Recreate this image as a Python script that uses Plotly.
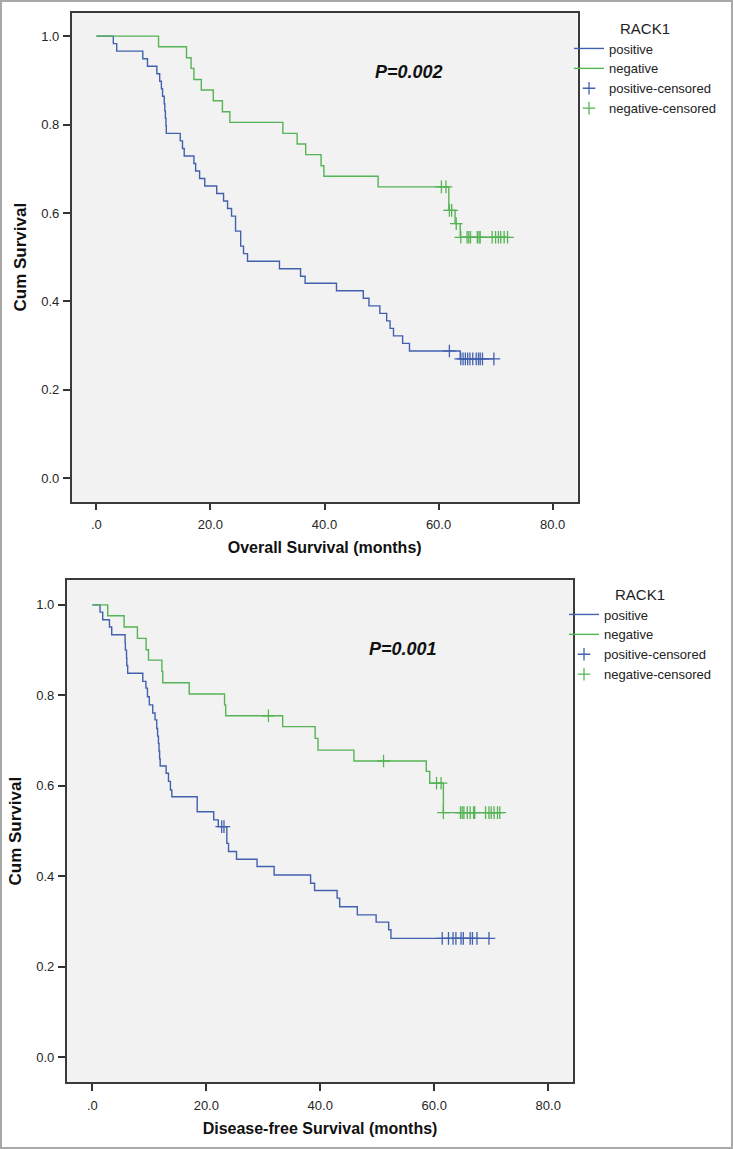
import numpy as np
import plotly.graph_objects as go

# ---------------- Data ----------------
# Overall survival, RACK1 positive: step times (months) and survival after each step
os_pos_time = [0, 2.97, 3.56, 8.14, 8.96, 10.6, 11.1, 11.4, 11.6, 11.9, 12.0, 12.1, 12.2, 12.26,
               14.7, 15.1, 15.4, 17.1, 17.4, 18.1, 19.0, 21.1, 22.3, 23.0, 23.7, 24.4, 25.3, 25.8,
               26.5, 32.1, 35.8, 36.6, 42.1, 46.8, 47.8, 49.7, 50.9, 51.5, 52.1, 53.7, 54.9, 63.8]
os_pos_surv = [1.000, 0.983, 0.966, 0.949, 0.932, 0.915, 0.898, 0.881, 0.864, 0.847, 0.831, 0.814,
               0.797, 0.780, 0.763, 0.746, 0.729, 0.712, 0.695, 0.678, 0.661, 0.644, 0.627, 0.610,
               0.593, 0.559, 0.525, 0.508, 0.491, 0.474, 0.457, 0.441, 0.424, 0.407, 0.390, 0.373,
               0.356, 0.339, 0.322, 0.305, 0.288, 0.270]
os_pos_censor = [61.9, 63.9, 64.3, 64.7, 65.1, 65.5, 66.0, 66.6, 67.0, 67.3, 67.7, 69.7]

# Overall survival, RACK1 negative
os_neg_time = [0, 10.9, 15.8, 16.6, 17.1, 18.4, 20.5, 22.1, 23.4, 32.7, 35.2, 36.7, 39.4, 39.9,
               49.4, 61.8, 62.9, 63.8]
os_neg_surv = [1.000, 0.976, 0.951, 0.927, 0.902, 0.878, 0.854, 0.829, 0.805, 0.780, 0.756, 0.732,
               0.707, 0.683, 0.659, 0.606, 0.576, 0.545]
os_neg_censor = [60.5, 61.3, 61.9, 62.3, 63.1, 63.9, 65.0, 65.3, 65.6, 66.8, 67.1, 67.3, 69.4,
                 70.0, 70.5, 70.9, 71.5, 72.1]

# Disease-free survival, RACK1 positive
dfs_pos_time = [0, 1.35, 1.82, 3.0, 3.4, 5.75, 5.8, 6.0, 6.05, 6.2, 8.85, 9.4, 9.67, 10.0, 10.6,
                11.0, 11.3, 11.45, 11.6, 11.7, 11.8, 11.9, 12.95, 13.36, 13.7, 13.95, 18.4, 21.3,
                22.1, 23.6, 23.9, 25.3, 28.9, 31.9, 38.3, 39.0, 42.95, 43.4, 46.5, 49.8, 52.0, 52.4]
dfs_pos_surv = [1.000, 0.984, 0.967, 0.951, 0.934, 0.917, 0.900, 0.883, 0.866, 0.849, 0.831, 0.816,
                0.797, 0.779, 0.761, 0.746, 0.727, 0.710, 0.694, 0.677, 0.660, 0.644, 0.628, 0.610,
                0.591, 0.576, 0.543, 0.525, 0.510, 0.473, 0.455, 0.438, 0.422, 0.403, 0.385, 0.369,
                0.352, 0.333, 0.315, 0.299, 0.282, 0.263]
dfs_pos_censor = [22.7, 23.1, 61.4, 62.5, 63.3, 63.8, 64.7, 65.1, 66.3, 66.7, 67.5, 69.6]

# Disease-free survival, RACK1 negative
dfs_neg_time = [0, 2.7, 5.57, 7.91, 9.43, 9.85, 12.2, 12.36, 17.0, 23.2, 23.4, 33.4, 39.1, 39.6,
                45.9, 58.6, 59.2, 61.6]
dfs_neg_surv = [1.000, 0.976, 0.951, 0.926, 0.901, 0.878, 0.853, 0.828, 0.803, 0.779, 0.755, 0.731,
                0.705, 0.679, 0.655, 0.632, 0.606, 0.541]
dfs_neg_censor = [30.9, 51.1, 60.4, 61.2, 61.6, 64.6, 64.9, 65.2, 65.8, 66.3, 66.9, 67.1, 69.0,
                  69.6, 70.0, 70.5, 71.1, 71.5]

x_tickvals = [0, 20, 40, 60, 80]
x_ticktext = ['.0', '20.0', '40.0', '60.0', '80.0']
y_tickvals = [0, 0.2, 0.4, 0.6, 0.8, 1.0]
y_ticktext = ['0.0', '0.2', '0.4', '0.6', '0.8', '1.0']

group_names = ['positive', 'negative']
legend_title = 'RACK1'
p_values = ['P=0.002', 'P=0.001']
x_titles = ['Overall Survival (months)', 'Disease-free Survival (months)']
y_title = 'Cum Survival'

# ---------------- Styling ----------------
W, H = 733, 1149
BLUE = '#4160AE'
GREEN = '#55B455'
FONT = 'Liberation Sans, Arial, Helvetica, sans-serif'
TXT = '#262626'


def surv_at(times, surv, t):
    idx = np.searchsorted(np.asarray(times), np.asarray(t), side='right') - 1
    return np.asarray(surv)[idx]


fig = go.Figure()


def add_panel(xa, ya, legend, pos, neg):
    sets = [(group_names[0], pos, BLUE), (group_names[1], neg, GREEN)]
    for name, (t, s, c), color in sets:
        fig.add_trace(go.Scatter(
            x=list(t) + [max(c)], y=list(s) + [s[-1]], mode='lines', name=name,
            line=dict(color=color, width=1.4, shape='hv'),
            xaxis=xa, yaxis=ya, legend=legend, hoverinfo='skip'))
    for name, (t, s, c), color in sets:
        fig.add_trace(go.Scatter(
            x=c, y=surv_at(t, s, c), mode='markers', name=name + '-censored',
            marker=dict(symbol='cross-thin', size=9, color=color,
                        line=dict(color=color, width=1.3)),
            xaxis=xa, yaxis=ya, legend=legend, hoverinfo='skip'))


add_panel('x', 'y', 'legend',
          (os_pos_time, os_pos_surv, os_pos_censor),
          (os_neg_time, os_neg_surv, os_neg_censor))
add_panel('x2', 'y2', 'legend2',
          (dfs_pos_time, dfs_pos_surv, dfs_pos_censor),
          (dfs_neg_time, dfs_neg_surv, dfs_neg_censor))


def xaxis_style(domain, anchor, rng, title):
    return dict(domain=domain, anchor=anchor, range=rng,
                tickvals=x_tickvals, ticktext=x_ticktext,
                ticks='outside', ticklen=7, tickwidth=1.5, tickcolor='#333',
                tickfont=dict(family=FONT, size=13, color=TXT), ticklabelstandoff=3,
                showline=True, mirror=True, linecolor='#3a3a3a', linewidth=1.5,
                showgrid=False, zeroline=False, automargin=False,
                title=dict(text=title, standoff=11,
                           font=dict(family=FONT, size=16, color='#111', weight='bold')))


def yaxis_style(domain, anchor, rng):
    return dict(domain=domain, anchor=anchor, range=rng,
                tickvals=y_tickvals, ticktext=y_ticktext,
                ticks='outside', ticklen=7, tickwidth=1.5, tickcolor='#333',
                tickfont=dict(family=FONT, size=13, color=TXT), ticklabelstandoff=1,
                showline=True, mirror=True, linecolor='#3a3a3a', linewidth=1.5,
                showgrid=False, zeroline=False, automargin=False,
                title=dict(text=y_title, standoff=10,
                           font=dict(family=FONT, size=17, color='#111', weight='bold')))


fig.update_layout(
    width=W, height=H,
    margin=dict(l=0, r=0, t=0, b=0),
    paper_bgcolor='white', plot_bgcolor='#F2F2F2',
    font=dict(family=FONT, color=TXT),
    xaxis=xaxis_style([71.7 / W, 577.7 / W], 'y', [-4.33, 84.4], x_titles[0]),
    yaxis=yaxis_style([1 - 501.7 / H, 1 - 12.7 / H], 'x', [-0.053, 1.053]),
    xaxis2=xaxis_style([66.7 / W, 573.3 / W], 'y2', [-4.5, 84.4], x_titles[1]),
    yaxis2=yaxis_style([1 - 1082.3 / H, 1 - 580 / H], 'x2', [-0.055, 1.055]),
    legend=dict(x=569 / W, y=1 - 14 / H, xanchor='left', yanchor='top',
                bgcolor='rgba(0,0,0,0)', font=dict(family=FONT, size=13, color='#222'),
                title=dict(text=legend_title, side='top center',
                           font=dict(family=FONT, size=15, color='#222')),
                itemwidth=30, tracegroupgap=0),
    legend2=dict(x=564 / W, y=1 - 580 / H, xanchor='left', yanchor='top',
                 bgcolor='rgba(0,0,0,0)', font=dict(family=FONT, size=13, color='#222'),
                 title=dict(text=legend_title, side='top center',
                            font=dict(family=FONT, size=15, color='#222')),
                 itemwidth=30, tracegroupgap=0),
    showlegend=True,
)

fig.add_annotation(x=54.8, y=0.92, xref='x', yref='y', text='<b><i>' + p_values[0] + '</i></b>',
                   showarrow=False, font=dict(family=FONT, size=18, color='#111'))
fig.add_annotation(x=54.6, y=0.903, xref='x2', yref='y2', text='<b><i>' + p_values[1] + '</i></b>',
                   showarrow=False, font=dict(family=FONT, size=18, color='#111'))

# thin grey frame around the whole figure
fig.add_shape(type='rect', xref='paper', yref='paper', x0=1 / W, x1=1 - 1 / W,
              y0=1 / H, y1=1 - 1 / H, line=dict(color='#A8A8A8', width=2), layer='below')

fig.write_html('out.html', config={'displayModeBar': False},
               post_script="document.body.style.margin='0';document.body.style.overflow='hidden';")
